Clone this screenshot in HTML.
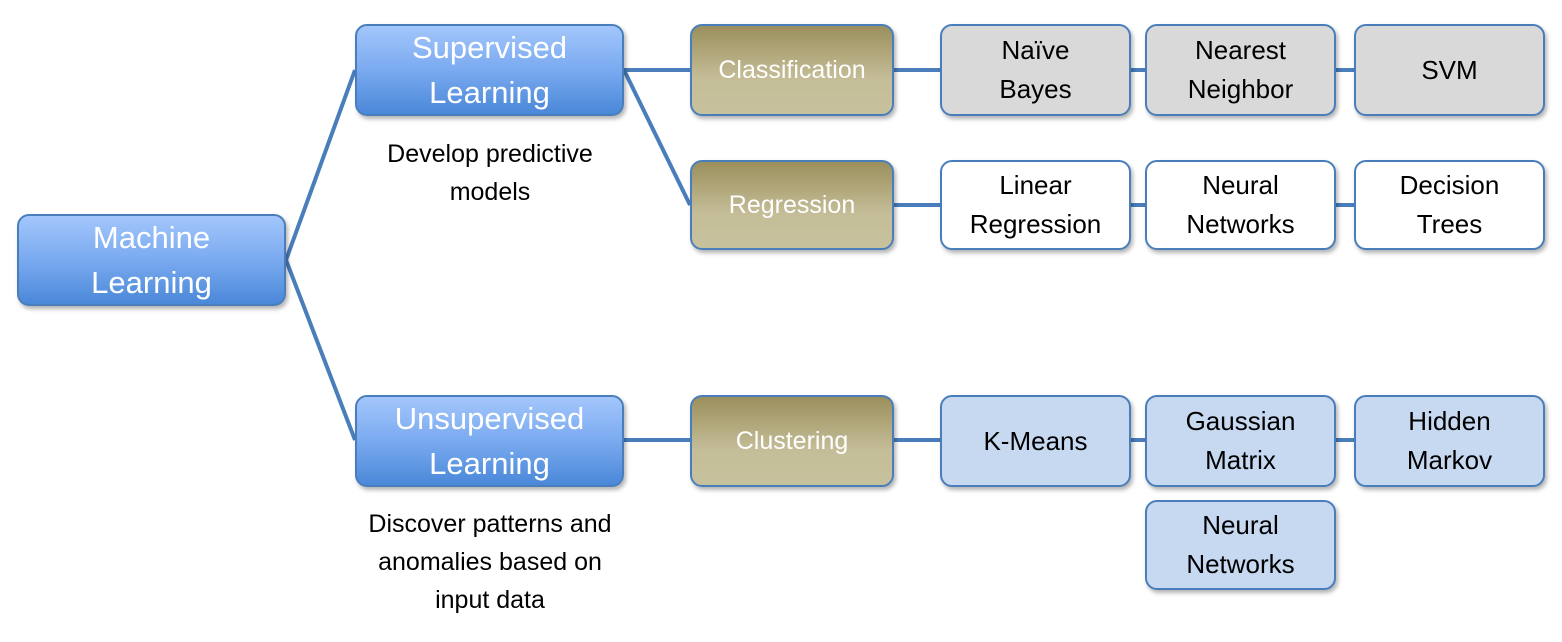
<!DOCTYPE html>
<html><head><meta charset="utf-8"><style>
body{margin:0;width:1562px;height:642px;background:#fff;position:relative;overflow:hidden;font-family:"Liberation Sans",sans-serif}
.b{position:absolute;box-sizing:border-box;border:2px solid #4a7ebb;border-radius:12px;display:flex;align-items:center;justify-content:center;text-align:center;box-shadow:2px 3px 4px rgba(0,0,0,.3);line-height:39px}
.blue{background:linear-gradient(#a3c6fb,#7aaaf0 50%,#4a88d8);color:#fff;font-size:31px;line-height:45px}
.gold{background:linear-gradient(#9b8f5c,#c4bd98 60%,#c6c19d);color:#fff;font-size:25px}
.grey{background:#d9d9d9;color:#000;font-size:26px}
.wh{background:#fff;color:#000;font-size:26px}
.lb{background:#c6d9f1;color:#000;font-size:26px}
.t{position:absolute;text-align:center;font-size:25px;line-height:38px;color:#000}
svg{position:absolute;left:0;top:0}
</style></head><body>
<svg width="1562" height="642"><g stroke="#4a7ebb" stroke-width="4" fill="none">
<line x1="286" y1="260" x2="355" y2="70"/><line x1="286" y1="260" x2="355" y2="440"/>
<line x1="624" y1="70" x2="690" y2="70"/><line x1="624" y1="70" x2="690" y2="205"/>
<line x1="624" y1="440" x2="690" y2="440"/>
<line x1="894" y1="70" x2="1354" y2="70"/><line x1="894" y1="205" x2="1354" y2="205"/>
<line x1="894" y1="440" x2="1354" y2="440"/>
</g></svg>
<div class="b blue" style="left:17px;top:214px;width:269px;height:92px">Machine<br>Learning</div>
<div class="b blue" style="left:355px;top:24px;width:269px;height:92px">Supervised<br>Learning</div>
<div class="b blue" style="left:355px;top:395px;width:269px;height:92px">Unsupervised<br>Learning</div>
<div class="t" style="left:330px;top:135px;width:320px">Develop predictive<br>models</div>
<div class="t" style="left:310px;top:505px;width:360px">Discover patterns and<br>anomalies based on<br>input data</div>
<div class="b gold" style="left:690px;top:24px;width:204px;height:92px">Classification</div>
<div class="b gold" style="left:690px;top:160px;width:204px;height:90px">Regression</div>
<div class="b gold" style="left:690px;top:395px;width:204px;height:92px">Clustering</div>
<div class="b grey" style="left:940px;top:24px;width:191px;height:92px">Naïve<br>Bayes</div>
<div class="b grey" style="left:1145px;top:24px;width:191px;height:92px">Nearest<br>Neighbor</div>
<div class="b grey" style="left:1354px;top:24px;width:191px;height:92px">SVM</div>
<div class="b wh" style="left:940px;top:160px;width:191px;height:90px">Linear<br>Regression</div>
<div class="b wh" style="left:1145px;top:160px;width:191px;height:90px">Neural<br>Networks</div>
<div class="b wh" style="left:1354px;top:160px;width:191px;height:90px">Decision<br>Trees</div>
<div class="b lb" style="left:940px;top:395px;width:191px;height:92px">K-Means</div>
<div class="b lb" style="left:1145px;top:395px;width:191px;height:92px">Gaussian<br>Matrix</div>
<div class="b lb" style="left:1354px;top:395px;width:191px;height:92px">Hidden<br>Markov</div>
<div class="b lb" style="left:1145px;top:500px;width:191px;height:90px">Neural<br>Networks</div>
</body></html>
